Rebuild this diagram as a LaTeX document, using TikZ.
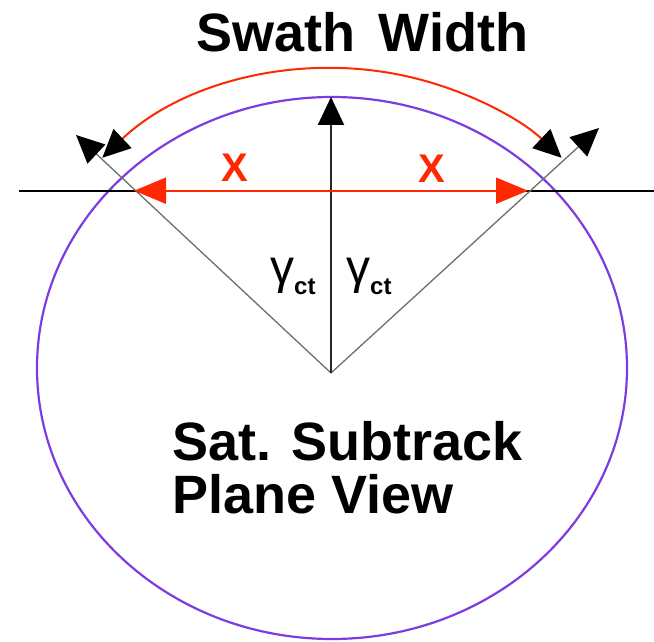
\documentclass[tikz,border=0pt]{standalone}
\usepackage{fontspec}
\setmainfont{Liberation Sans}
\usetikzlibrary{arrows.meta}
\definecolor{orbit}{RGB}{125,60,225}
\definecolor{swred}{RGB}{255,40,0}
\definecolor{diaggray}{RGB}{110,110,110}
\begin{document}
\begin{tikzpicture}[x=1pt,y=1pt,
  orbitline/.style={draw=orbit, line width=2.2pt},
  horizline/.style={draw=black, line width=2pt},
  diagline/.style={draw=diaggray, line width=1.3pt, -{Triangle[length=28pt,width=26pt,color=black]}},
  axisline/.style={draw=black!85, line width=2pt, -{Triangle[length=28pt,width=26pt,color=black]}},
  redarrow/.style={draw=swred, line width=2pt, -{Triangle[length=32pt,width=26pt,color=swred]}},
  arcline/.style={draw=swred, line width=2pt, {Triangle[length=28pt,width=26pt,color=black]}-{Triangle[length=28pt,width=26pt,color=black]}},
  xlabel/.style={text=swred, font=\bfseries\fontsize{40}{40}\selectfont, inner sep=0pt},
  biglabel/.style={font=\bfseries\fontsize{54}{54}\selectfont, inner sep=0pt},
  gammalabel/.style={font=\fontsize{48}{48}\selectfont, inner sep=0pt}
]
\useasboundingbox (0,0) rectangle (654,641);
\coordinate (O) at (331,268);
\coordinate (T) at (331,544);
\coordinate (L) at (76,506);
\coordinate (R) at (599,513);
\coordinate (HL) at (19,450.3);
\coordinate (HR) at (654,450.3);
\coordinate (M) at (331,450.3);
\coordinate (XL) at (134,450.3);
\coordinate (XR) at (528,450.3);
\coordinate (AS) at (102.3,483.2);
% orbit plane view
\draw[orbitline] (332,273) ellipse[x radius=295, y radius=271];
% horizon line
\draw[horizline] (HL) -- (HR);
% swath edges
\draw[diagline] (O) -- (L);
\draw[diagline] (O) -- (R);
% nadir axis
\draw[axisline] (O) -- (T);
% half swath arrows
\draw[redarrow] (M) -- (XL);
\draw[redarrow] (M) -- (XR);
% swath arc
\draw[arcline] (AS) arc[start angle=135.5, end angle=44.5, x radius=322, y radius=300];
% labels
\node[xlabel] (x1) at (235,473.5) {X};
\node[xlabel] (x2) at (431.5,472) {X};
\node[biglabel, anchor=base] (title) at (362.5,589) {Swath\hspace{0.15em} Width};
\node[biglabel, anchor=base west] (sat) at (172,181) {Sat. Subtrack};
\node[biglabel, anchor=base west] (plane) at (172,128) {Plane View};
\node[gammalabel, anchor=base west] (g1) at (270,357) {γ\raisebox{-11pt}{\bfseries\fontsize{24}{24}\selectfont ct}};
\node[gammalabel, anchor=base west] (g2) at (346,357) {γ\raisebox{-11pt}{\bfseries\fontsize{24}{24}\selectfont ct}};
\end{tikzpicture}
\end{document}
